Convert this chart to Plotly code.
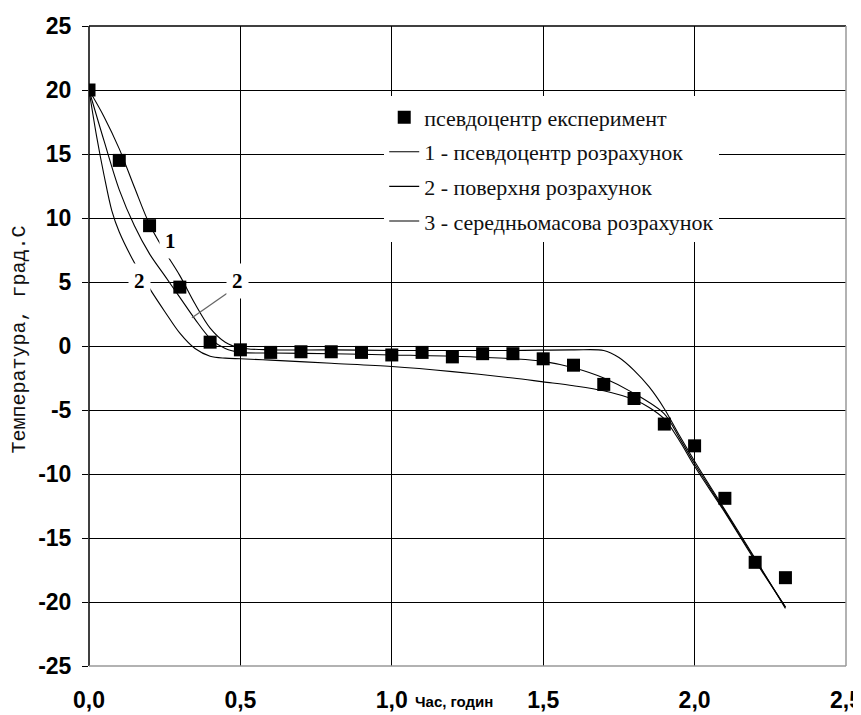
import plotly.graph_objects as go

# ---- data ----
x_ticks = [0.0, 0.5, 1.0, 1.5, 2.0, 2.5]
x_tick_labels = ["0,0", "0,5", "1,0", "1,5", "2,0", "2,5"]
y_ticks = [25, 20, 15, 10, 5, 0, -5, -10, -15, -20, -25]
y_tick_labels = ["25", "20", "15", "10", "5", "0", "-5", "-10", "-15", "-20", "-25"]

exp_t = [0.0, 0.1, 0.2, 0.3, 0.4, 0.5, 0.6, 0.7, 0.8, 0.9, 1.0, 1.1,
         1.2, 1.3, 1.4, 1.5, 1.6, 1.7, 1.8, 1.9, 2.0, 2.1, 2.2, 2.3]
exp_T = [20.0, 14.5, 9.4, 4.6, 0.3, -0.3, -0.5, -0.45, -0.45, -0.5, -0.7, -0.5,
         -0.85, -0.6, -0.6, -1.0, -1.5, -3.0, -4.1, -6.1, -7.8, -11.9, -16.9, -18.1]

# 1 - pseudocentre (calculated)
c1_t = [0.0, 0.05, 0.1, 0.15, 0.2, 0.25, 0.3, 0.35, 0.4, 0.45, 0.5, 0.6, 0.8,
        1.0, 1.2, 1.4, 1.6, 1.7, 1.75, 1.8, 1.85, 1.9, 1.95, 2.0, 2.1, 2.2, 2.3]
c1_T = [20.0, 17.9, 15.4, 12.4, 9.5, 7.4, 5.5, 3.3, 1.4, 0.3, -0.15, -0.3, -0.3,
        -0.35, -0.35, -0.35, -0.3, -0.35, -0.9, -1.9, -3.2, -4.9, -7.0, -9.0, -12.8, -16.6, -20.5]

# 2 - surface (calculated)
c2_t = [0.0, 0.025, 0.05, 0.075, 0.1, 0.15, 0.2, 0.25, 0.3, 0.35, 0.4, 0.45, 0.5,
        0.6, 0.8, 1.0, 1.2, 1.4, 1.5, 1.6, 1.7, 1.8, 1.85, 1.9, 1.95, 2.0, 2.1, 2.2, 2.3]
c2_T = [20.0, 16.4, 13.3, 10.6, 8.9, 6.5, 4.5, 2.7, 1.0, -0.2, -0.8, -0.95, -1.0,
        -1.1, -1.35, -1.6, -2.0, -2.5, -2.8, -3.1, -3.5, -4.2, -4.8, -5.7, -7.4, -9.4, -13.0, -16.8, -20.4]

# 3 - mass-average (calculated)
c3_t = [0.0, 0.05, 0.1, 0.15, 0.2, 0.25, 0.3, 0.35, 0.4, 0.45, 0.5, 0.6, 0.8,
        1.0, 1.2, 1.4, 1.5, 1.6, 1.7, 1.8, 1.9, 1.95, 2.0, 2.1, 2.2, 2.3]
c3_T = [20.0, 16.0, 12.2, 9.4, 7.2, 5.5, 3.8, 2.1, 0.6, -0.2, -0.5, -0.55, -0.6,
        -0.7, -0.8, -1.0, -1.2, -1.7, -2.5, -3.7, -5.3, -7.2, -9.2, -12.9, -16.7, -20.4]

names = ["псевдоцентр експеримент", "1 - псевдоцентр розрахунок",
         "2 - поверхня розрахунок", "3 - середньомасова розрахунок"]

curve_labels = ["1", "2", "2"]
curve_label_t = [0.268, 0.168, 0.49]
curve_label_T = [8.2, 5.1, 5.1]
leader_t = [0.455, 0.34]
leader_T = [4.1, 2.2]

x_title = "Час, годин"
y_title = "Температура, град.С"

# ---- figure ----
# The page body has an 8 px default margin, so the figure is sized/offset to fit 861x715.
fig = go.Figure()
line_style = dict(color="black", width=1.1, shape="spline", smoothing=0.9)
for i, (t, T) in enumerate([(c1_t, c1_T), (c2_t, c2_T), (c3_t, c3_T)]):
    fig.add_trace(go.Scatter(x=t, y=T, mode="lines", name=names[i + 1],
                             line=line_style, legendrank=i + 2,
                             legendgroup=f"g{i+1}"))
fig.add_trace(go.Scatter(x=exp_t, y=exp_T, mode="markers", name=names[0],
                         marker=dict(symbol="square", size=13, color="black"),
                         legendrank=1, legendgroup="g0"))

tick_font = dict(family="Liberation Sans, Arial, sans-serif",
                 size=23, color="black", weight="bold")

fig.update_layout(
    width=853, height=707,
    margin=dict(l=81, r=15, t=18, b=49, autoexpand=False),
    paper_bgcolor="white", plot_bgcolor="white",
    showlegend=True,
    legend=dict(x=0.39, y=0.89, xanchor="left", yanchor="top",
                bgcolor="white", borderwidth=0, tracegroupgap=3,
                font=dict(family="Liberation Serif, Times New Roman, serif", size=22, color="#111")),
    xaxis=dict(range=[0, 2.5], tickvals=x_ticks, ticktext=x_tick_labels,
               showgrid=True, gridcolor="black", gridwidth=1.3,
               zeroline=False, showline=False, ticks="", automargin=False,
               tickfont=tick_font, ticklabelstandoff=18,
               ticklabeloverflow="allow"),
    yaxis=dict(range=[-25, 25], tickvals=y_ticks, ticktext=y_tick_labels,
               showgrid=True, gridcolor="black", gridwidth=1.3,
               zeroline=False, showline=False, ticks="outside", ticklen=6,
               tickcolor="black", tickwidth=1.3, automargin=False,
               tickfont=tick_font, ticklabelstandoff=6),
)

# plot frame
fig.add_shape(type="line", xref="paper", yref="paper", x0=0, x1=0, y0=0, y1=1,
              line=dict(color="black", width=1.5))
fig.add_shape(type="line", xref="paper", yref="paper", x0=0, x1=1, y0=1, y1=1,
              line=dict(color="black", width=1.3))
fig.add_shape(type="line", xref="paper", yref="paper", x0=1, x1=1, y0=0, y1=1,
              line=dict(color="#999", width=1.5))
fig.add_shape(type="line", xref="paper", yref="paper", x0=0, x1=1, y0=0, y1=0,
              line=dict(color="#999", width=1.5))

# leader line
fig.add_shape(type="line", xref="x", yref="y", x0=leader_t[0], y0=leader_T[0],
              x1=leader_t[1], y1=leader_T[1], line=dict(color="#666", width=1.3))

for lab, t, T in zip(curve_labels, curve_label_t, curve_label_T):
    fig.add_annotation(x=t, y=T, text=lab, showarrow=False, bgcolor="white",
                       borderpad=5,
                       font=dict(family="Liberation Serif, Times New Roman, serif",
                                 size=21, color="black", weight="bold"))

fig.add_annotation(x=1.205, y=0, xref="x", yref="paper", yanchor="top", yshift=-25,
                   text=x_title, showarrow=False,
                   font=dict(family="Liberation Sans, Arial, sans-serif",
                             size=15, color="black", weight="bold"))
fig.add_annotation(x=0, y=0.51, xref="paper", yref="paper", xanchor="center",
                   xshift=-69, text=y_title, textangle=-90, showarrow=False,
                   font=dict(family="Liberation Mono, Courier New, monospace",
                             size=20, color="#111"))

fig.write_html("out.html")
